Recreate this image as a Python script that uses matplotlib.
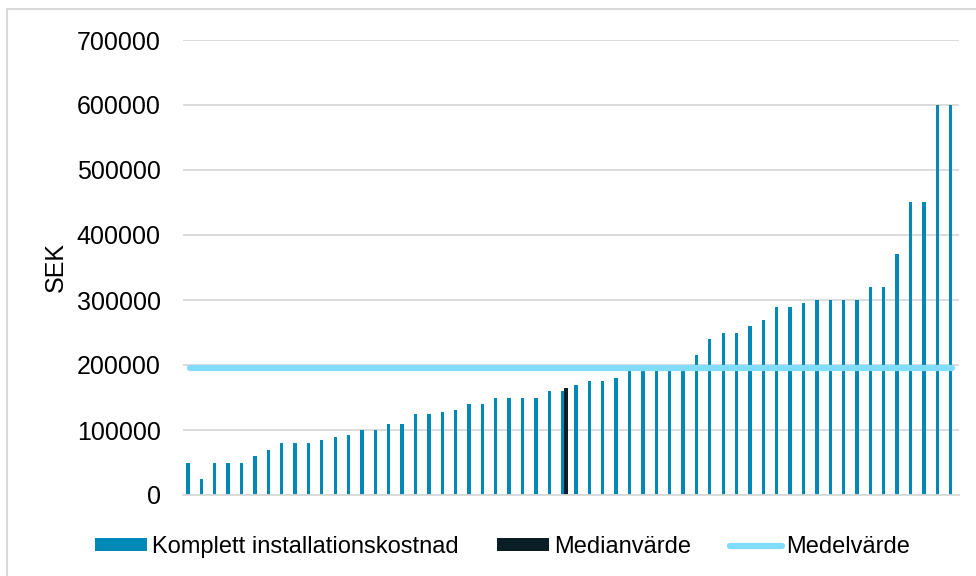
"""
Installation cost per site, sorted, with median and mean
"""

import numpy as np
import matplotlib.pyplot as plt
from matplotlib.patches import Rectangle

# Values (SEK), already sorted ascending
costs = [
    50000, 25000, 50000, 50000, 50000, 60000, 70000, 80000, 80000, 80000,
    85000, 90000, 92000, 100000, 100000, 110000, 110000, 125000, 125000, 127000,
    131000, 140000, 140000, 150000, 150000, 150000, 150000, 160000, 160000, 170000,
    175000, 175000, 180000, 195000, 195000, 195000, 195000, 195000, 215000, 240000,
    250000, 250000, 260000, 270000, 290000, 290000, 295000, 300000, 300000, 300000,
    300000, 320000, 320000, 370000, 450000, 450000, 600000, 600000,
]
median_value = 165000
median_index = 28
mean_value = 196000

yticks = [0, 100000, 200000, 300000, 400000, 500000, 600000, 700000]
labels = ["Komplett installationskostnad", "Medianvärde", "Medelvärde"]

blue = "#0089B6"
dark = "#0C1E25"
light = "#80DDFF"
grid_col = "#D9D9D9"

plt.rcParams["font.family"] = ["Liberation Sans", "DejaVu Sans"]

fig = plt.figure(figsize=(9.76, 5.76), dpi=100)
ax = fig.add_axes([183 / 976, 1 - 495 / 576, 776 / 976, 455 / 576])

x = np.arange(len(costs))
w = 0.25
median_vals = np.zeros(len(costs))
median_vals[median_index] = median_value

b1 = ax.bar(x - w / 2, costs, width=w, color=blue, zorder=2)
b2 = ax.bar(x + w / 2, median_vals, width=w, color=dark, zorder=2)
l1, = ax.plot(x, np.full(len(costs), mean_value), color=light, lw=4.5,
              solid_capstyle="round", zorder=3)

ax.set_xlim(-0.5, len(costs) - 0.5)
ax.set_ylim(0, 700000)
ax.set_yticks(yticks)
ax.set_yticklabels([str(v) for v in yticks])
ax.set_xticks([])
ax.tick_params(axis="y", length=0, pad=16, labelsize=18, labelcolor="#000000")

ax.grid(axis="y", color=grid_col, lw=1.3, zorder=0)
ax.set_axisbelow(True)
for side in ["top", "right", "left"]:
    ax.spines[side].set_visible(False)
ax.spines["bottom"].set_color(grid_col)
ax.spines["bottom"].set_linewidth(1.3)

ax.set_ylabel("SEK", fontsize=18)
ax.yaxis.set_label_coords(-0.148, 0.5)

fig.legend(
    [b1, b2, l1],
    labels,
    loc="center",
    bbox_to_anchor=(0.515, 1 - 547 / 576),
    ncol=3,
    frameon=False,
    fontsize=17,
    handlelength=2.2,
    handleheight=0.45,
    handletextpad=0.2,
    columnspacing=1.65,
)

# chart border (clipped at right and bottom)
fig.patches.append(
    Rectangle((7 / 976, -0.02), 1.0, 1 - 9 / 576 + 0.02, transform=fig.transFigure,
              fill=False, edgecolor=grid_col, lw=1.5)
)

fig.savefig("out.png", dpi=100)
